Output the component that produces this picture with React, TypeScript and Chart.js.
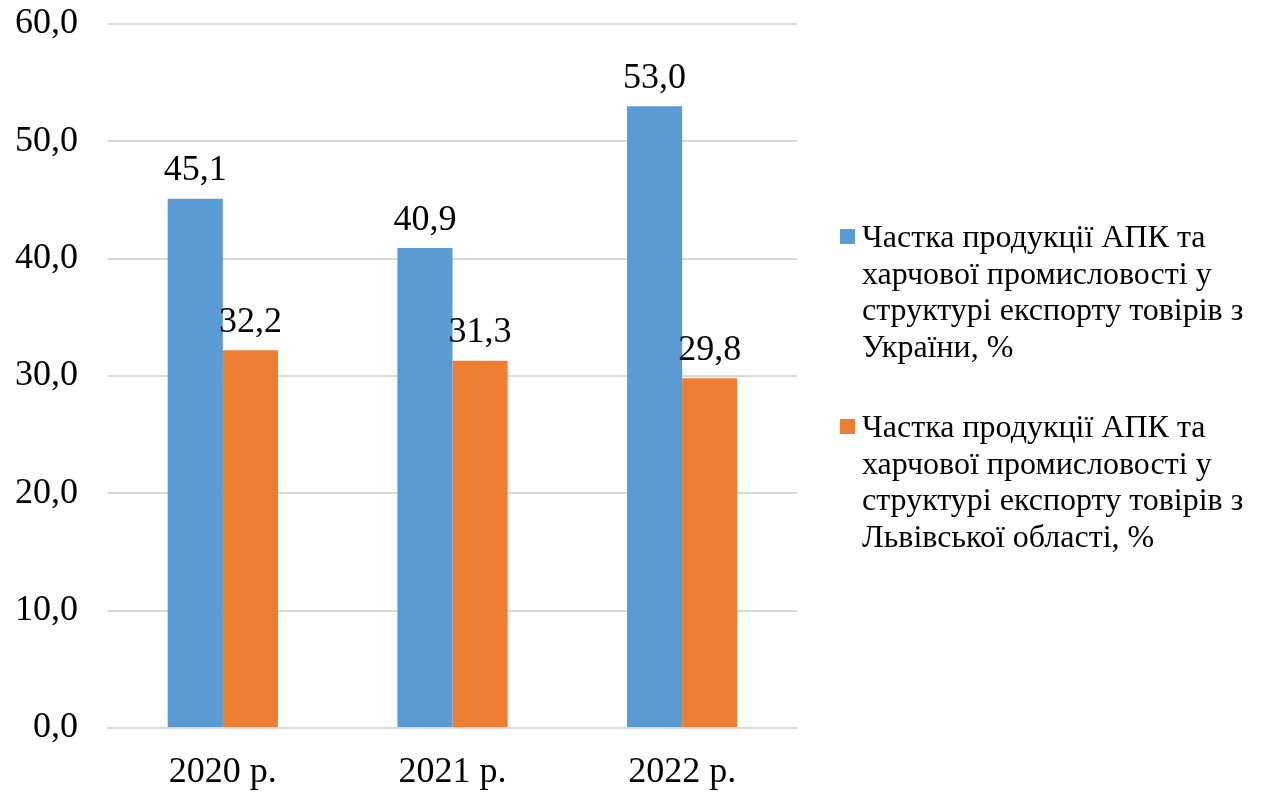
import React, { useEffect, useRef } from "react";
import { Chart, registerables } from "chart.js";

Chart.register(...registerables);

const categories = ["2020 р.", "2021 р.", "2022 р."];
const ukraineShare = [45.1, 40.9, 53.0];
const lvivShare = [32.2, 31.3, 29.8];
const seriesLabels = [
  ["Частка продукції АПК та", "харчової промисловості у", "структурі експорту товірів з", "України, %"],
  ["Частка продукції АПК та", "харчової промисловості у", "структурі експорту товірів з", "Львівської області, %"],
];
const colors = ["#5B9BD5", "#ED7D31"];
const FONT = "'Liberation Serif', 'Times New Roman', serif";

const fmt = (v: number) => v.toFixed(1).replace(".", ",");

const dataLabelPlugin = {
  id: "dataLabels",
  afterDatasetsDraw(chart: any) {
    const ctx = chart.ctx;
    ctx.save();
    ctx.font = `36px ${FONT}`;
    ctx.fillStyle = "#000";
    ctx.textAlign = "center";
    ctx.textBaseline = "bottom";
    chart.data.datasets.forEach((ds: any, i: number) => {
      const meta = chart.getDatasetMeta(i);
      meta.data.forEach((bar: any, j: number) => {
        ctx.fillText(fmt(ds.data[j]), bar.x, bar.y - 10);
      });
    });
    ctx.restore();
  },
};

const legendPlugin = {
  id: "customLegend",
  afterDraw(chart: any) {
    const ctx = chart.ctx;
    ctx.save();
    ctx.font = `32px ${FONT}`;
    ctx.textAlign = "left";
    ctx.textBaseline = "alphabetic";
    const starts = [247, 437];
    const lineH = 36.7;
    seriesLabels.forEach((lines, i) => {
      ctx.fillStyle = colors[i];
      ctx.fillRect(840, starts[i] - 18, 15, 15);
      ctx.fillStyle = "#000";
      lines.forEach((t, k) => {
        ctx.fillText(t, 862, starts[i] + k * lineH);
      });
    });
    ctx.restore();
  },
};

export default function App() {
  const ref = useRef<HTMLCanvasElement>(null);
  useEffect(() => {
    if (!ref.current) return;
    const chart = new Chart(ref.current, {
      type: "bar",
      data: {
        labels: categories,
        datasets: [
          {
            label: seriesLabels[0].join(" "),
            data: ukraineShare,
            backgroundColor: colors[0],
            categoryPercentage: 0.48,
            barPercentage: 1,
          },
          {
            label: seriesLabels[1].join(" "),
            data: lvivShare,
            backgroundColor: colors[1],
            categoryPercentage: 0.48,
            barPercentage: 1,
          },
        ],
      },
      options: {
        responsive: false,
        animation: false,
        layout: { padding: { top: 24, right: 464, bottom: 0, left: 0 } },
        plugins: {
          legend: { display: false },
          tooltip: { enabled: false },
        },
        scales: {
          x: {
            grid: { display: false },
            border: { display: true, color: "#D9D9D9", width: 2 },
            ticks: { color: "#000", font: { family: FONT, size: 36 }, padding: 15 },
            afterFit(scale: any) {
              scale.height = 66;
              scale.paddingLeft = 0;
              scale.paddingRight = 0;
            },
          },
          y: {
            min: 0,
            max: 60,
            ticks: {
              stepSize: 10,
              color: "#000",
              font: { family: FONT, size: 36 },
              padding: 30,
              callback: (v: any) => fmt(Number(v)),
            },
            grid: { color: "#D9D9D9", lineWidth: 2, drawTicks: false },
            border: { display: false },
            afterFit(scale: any) {
              scale.width = 108;
              scale.paddingTop = 0;
              scale.paddingBottom = 0;
            },
          },
        },
      },
      plugins: [dataLabelPlugin, legendPlugin],
    });
    return () => chart.destroy();
  }, []);
  return (
    <div style={{ position: "fixed", left: 0, top: 0, width: 1261, height: 794, background: "#fff", overflow: "hidden" }}>
      <canvas ref={ref} width={1261} height={794} />
    </div>
  );
}
